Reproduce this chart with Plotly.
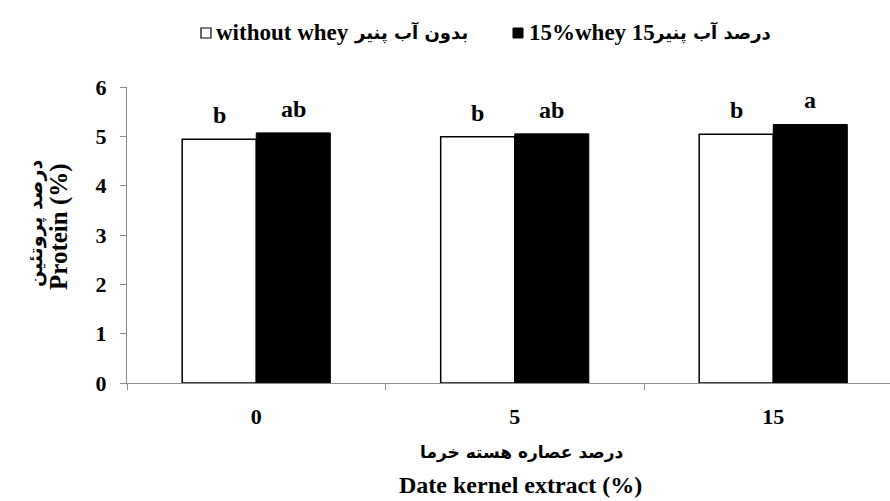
import plotly.graph_objects as go

categories = ["0", "5", "15"]
without_whey = [4.94, 4.99, 5.04]
with_whey = [5.07, 5.05, 5.24]
letters_without = ["b", "b", "b"]
letters_with = ["ab", "ab", "a"]
y_ticks = [0, 1, 2, 3, 4, 5, 6]

W, H = 890, 501
L, R, T, B = 127, 0, 87, 118
PW, PH = W - L - R, H - T - B

def px(x):
    return (x - L) / PW

def py(y):
    return (H - B - y) / PH

SERIF = "Liberation Serif, Times New Roman, DejaVu Sans"
AR = "DejaVu Sans, Liberation Serif"

fig = go.Figure()
fig.add_trace(go.Bar(
    x=categories, y=without_whey, name="without whey",
    marker=dict(color="white", line=dict(color="black", width=1.5)),
    showlegend=False,
))
fig.add_trace(go.Bar(
    x=categories, y=with_whey, name="15%whey",
    marker=dict(color="black", line=dict(color="black", width=1)),
    showlegend=False,
))

ann = []
# significance letters
for i, c in enumerate(categories):
    ann.append(dict(x=i, y=without_whey[i], xref="x", yref="y", text=letters_without[i],
                    xshift=-37, yshift=9, xanchor="center", yanchor="bottom", showarrow=False,
                    font=dict(family=SERIF, size=24, color="black", weight="bold")))
    ann.append(dict(x=i, y=with_whey[i], xref="x", yref="y", text=letters_with[i],
                    xshift=37, yshift=9, xanchor="center", yanchor="bottom", showarrow=False,
                    font=dict(family=SERIF, size=24, color="black", weight="bold")))

# legend-like header
hy = py(33)
ann.append(dict(x=px(214), y=hy, xref="paper", yref="paper", text="without whey",
                xanchor="left", yanchor="middle", showarrow=False,
                font=dict(family=SERIF, size=23, color="black", weight="bold")))
ann.append(dict(x=px(470), y=hy, xref="paper", yref="paper", text="بدون آب پنیر",
                xanchor="right", yanchor="middle", showarrow=False,
                font=dict(family=AR, size=18, color="black", weight="bold")))
ann.append(dict(x=px(527), y=hy, xref="paper", yref="paper", text="15%whey 15",
                xanchor="left", yanchor="middle", showarrow=False,
                font=dict(family=SERIF, size=23, color="black", weight="bold")))
ann.append(dict(x=px(773), y=hy, xref="paper", yref="paper", text="درصد آب پنیر",
                xanchor="right", yanchor="middle", showarrow=False,
                font=dict(family=AR, size=18, color="black", weight="bold")))

# axis titles
ann.append(dict(x=px(35), y=py(224), xref="paper", yref="paper", text="درصد پروتئین",
                textangle=-90, xanchor="center", yanchor="middle", showarrow=False,
                font=dict(family=AR, size=19, color="black", weight="bold")))
ann.append(dict(x=px(59), y=py(227), xref="paper", yref="paper", text="Protein (%)",
                textangle=-90, xanchor="center", yanchor="middle", showarrow=False,
                font=dict(family=SERIF, size=25, color="black", weight="bold")))
ann.append(dict(x=px(521), y=py(452), xref="paper", yref="paper", text="درصد عصاره هسته خرما",
                xanchor="center", yanchor="middle", showarrow=False,
                font=dict(family=AR, size=17, color="black", weight="bold")))
ann.append(dict(x=px(520), y=py(485), xref="paper", yref="paper", text="Date kernel extract (%)",
                xanchor="center", yanchor="middle", showarrow=False,
                font=dict(family=SERIF, size=24, color="black", weight="bold")))

shapes = [
    dict(type="rect", xref="paper", yref="paper", x0=px(201), x1=px(211), y0=py(38), y1=py(28),
         line=dict(color="black", width=1.2), fillcolor="white"),
    dict(type="rect", xref="paper", yref="paper", x0=px(513), x1=px(523), y0=py(38), y1=py(28),
         line=dict(color="black", width=1), fillcolor="black"),
]

fig.update_layout(
    width=W, height=H,
    margin=dict(l=L, r=R, t=T, b=B, pad=0),
    paper_bgcolor="white", plot_bgcolor="white",
    barmode="group", bargap=0.427, bargroupgap=0,
    annotations=ann, shapes=shapes,
    showlegend=False,
)
fig.update_xaxes(
    type="category", range=[-0.5, -0.5 + PW / 258.5],
    showline=True, linecolor="#8c8c8c", linewidth=1.2,
    ticks="outside", tickson="boundaries", ticklen=6, tickcolor="#8c8c8c",
    showgrid=False, zeroline=False, ticklabelstandoff=13,
    tickfont=dict(family=SERIF, size=22, color="black", weight="bold"),
)
fig.update_yaxes(
    range=[0, 6], tickvals=y_ticks,
    showline=True, linecolor="#8c8c8c", linewidth=1.2,
    ticks="outside", ticklen=6, tickcolor="#8c8c8c",
    showgrid=False, zeroline=False, ticklabelstandoff=9,
    tickfont=dict(family=SERIF, size=22, color="black", weight="bold"),
)

fig.write_html("out.html", config={"displayModeBar": False},
               post_script="document.body.style.margin='0';document.body.style.overflow='hidden';")
